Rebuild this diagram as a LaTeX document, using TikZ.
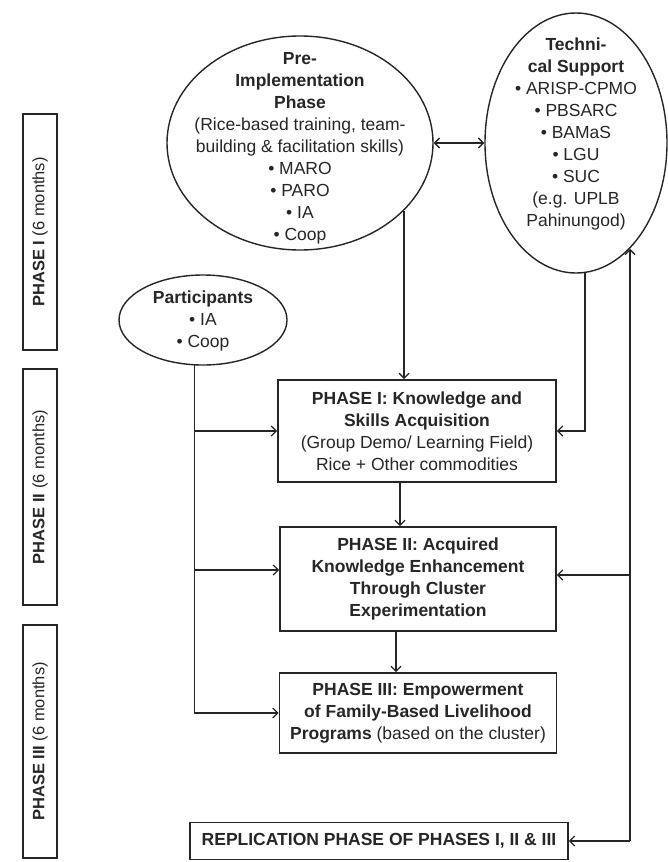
\documentclass[tikz,border=0pt]{standalone}
\usepackage{fontspec}
\setmainfont{Liberation Sans}
\usetikzlibrary{arrows.meta,positioning,shapes.geometric}
\definecolor{ink}{RGB}{38,38,38}
\tikzset{
  >={Straight Barb[length=5pt,width=10pt]},
  oval/.style={ellipse,draw=ink,line width=1.4pt,inner sep=0pt},
  txt/.style={align=center,inner sep=0pt,text=ink,font=\fontsize{17.5}{22}\selectfont},
  stage/.style={draw=ink,line width=1.7pt,inner sep=0pt,align=center,text=ink,
    font=\fontsize{17.5}{22}\selectfont},
  sidebox/.style={draw=ink,line width=1.7pt,rotate=90,minimum height=34pt,inner sep=0pt,
    text=ink,font=\fontsize{16.5}{20}\selectfont},
  flow/.style={->,line width=1.3pt,draw=ink},
  link/.style={line width=1.3pt,draw=ink},
}

\begin{document}
\begin{tikzpicture}[x=1pt,y=-1pt]
    \useasboundingbox (0,0) rectangle (667,862);
    % time line on the left
    \foreach \lab/\ya/\yb [count=\i] in {I/114/350,II/369/605,III/625/858}
      \node[sidebox,minimum width={(\yb-\ya)*1pt}] (side\i) at (40,{(\ya+\yb)/2}) {\textbf{PHASE \lab} (6 months)};
    % ovals
    \node[oval,minimum width=266pt,minimum height=214pt] (pre) at (300,143) {};
    \node[txt] (pretxt) at (300,148) {\textbf{Pre-}\\\textbf{Implementation}\\\textbf{Phase}\\(Rice-based training, team-\\building \& facilitation skills)\\• MARO\\• PARO\\• IA\\• Coop};
    \node[oval,minimum width=182pt,minimum height=260pt] (tech) at (576,143) {};
    \node[txt] (techtxt) at (576,134) {\textbf{Techni-}\\\textbf{cal Support}\\• ARISP-CPMO\\• PBSARC\\• BAMaS\\• LGU\\• SUC\\(e.g. UPLB\\Pahinungod)};
    \node[oval,minimum width=168pt,minimum height=90pt] (part) at (203,320) {};
    \node[txt] (parttxt) at (203,321) {\textbf{Participants}\\• IA\\• Coop};
    % stages
    \node[stage,minimum width=278pt,minimum height=102pt] (p1) at (417,431) {\textbf{PHASE I: Knowledge and}\\\textbf{Skills Acquisition}\\(Group Demo/ Learning Field)\\Rice + Other commodities};
    \node[stage,minimum width=276pt,minimum height=104pt] (p2) at (418,579) {\textbf{PHASE II: Acquired}\\\textbf{Knowledge Enhancement}\\\textbf{Through Cluster}\\\textbf{Experimentation}};
    \node[stage,minimum width=277pt,minimum height=80pt] (p3) at (418,713) {\textbf{PHASE III: Empowerment}\\\textbf{of Family-Based Livelihood}\\\textbf{Programs} (based on the cluster)};
    \node[stage,minimum width=378pt,minimum height=37pt] (rep) at (379,841) {\textbf{REPLICATION PHASE OF PHASES I, II \& III}};
    % connectors
    \draw[flow,<->] (pre.east) -- (tech.west);
    \draw[flow] (pre.-33) -- (pre.-33 |- p1.north);
    \draw[flow] (tech.-86) |- (p1.east);
    \draw[flow] ([xshift=-17pt]p1.south) -- ([xshift=-17pt]p1.south |- p2.north);
    \draw[flow] ([xshift=-22pt]p2.south) -- ([xshift=-22pt]p2.south |- p3.north);
    % participants feed every stage
    \coordinate (lstem) at (part.-101);
    \coordinate (p2in) at ([yshift=9pt]p2.west);
    \draw[link] (lstem) -- (lstem |- p3.west);
    \draw[flow] (lstem |- p1.west) -- (p1.west);
    \draw[flow] (lstem |- p2in) -- (p2in);
    \draw[flow] (lstem |- p3.west) -- (p3.west);
    % feedback on the right
    \coordinate (rjoin) at (630,841);
    \coordinate (p2back) at ([yshift=4pt]p2.east);
    \draw[flow] (rjoin) -- (rjoin |- tech.-63);
    \draw[flow] (rjoin |- p2back) -- (p2back);
    \draw[flow] (rjoin) -- (rep.east);
\end{tikzpicture}
\end{document}
